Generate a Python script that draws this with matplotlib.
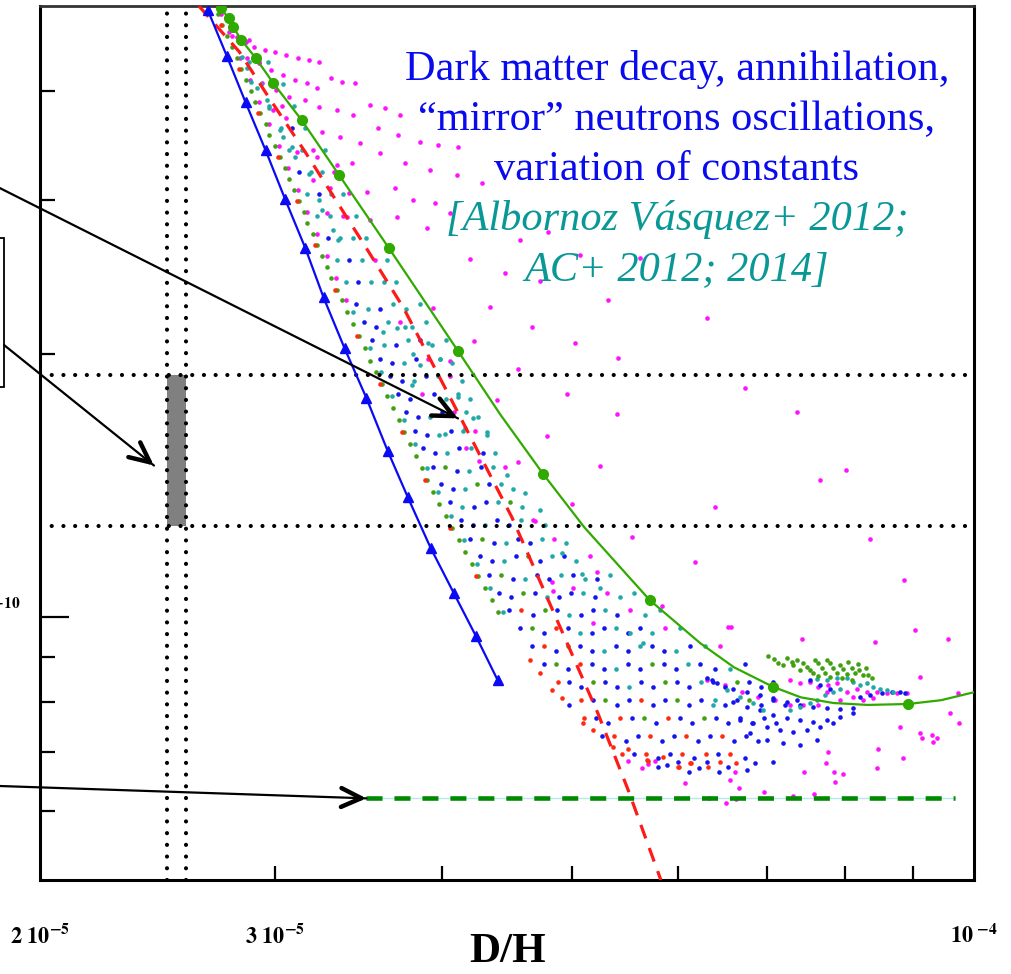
import numpy as np
import matplotlib
matplotlib.use("Agg")
import matplotlib.pyplot as plt
from matplotlib.patches import Rectangle
from matplotlib.ticker import FixedLocator, NullLocator, NullFormatter
from matplotlib.transforms import blended_transform_factory

plt.rcParams['mathtext.fontset'] = 'stix'
SERIF = ['Liberation Serif', 'DejaVu Serif']

DH_UNIT = 1e-5    # D/H values below are in units of 1e-5
LI_UNIT = 1e-10   # Li/H values below are in units of 1e-10

# observational windows
dh_obs = [2.49, 2.57]
li_obs = [1.27, 1.89]

# model curves
blue_dh = [2.67, 2.76, 2.85, 2.95, 3.05, 3.16, 3.26, 3.38, 3.51, 3.64, 3.77, 3.92, 4.08, 4.24, 4.40]
blue_li = [4.95, 4.38, 3.88, 3.42, 3.01, 2.64, 2.32, 2.03, 1.78, 1.55, 1.37, 1.20, 1.065, 0.95, 0.847]

green_mark_dh = [2.73, 2.77, 2.79, 2.83, 2.90, 2.99, 3.14, 3.35, 3.65, 4.11, 4.76, 5.72, 7.07, 8.93]
green_mark_li = [4.97, 4.84, 4.73, 4.57, 4.36, 4.08, 3.70, 3.20, 2.64, 2.015, 1.457, 1.045, 0.832, 0.795]
green_line_dh = [2.73, 2.77, 2.79, 2.83, 2.90, 2.99, 3.14, 3.35, 3.65, 4.11, 4.42, 4.76, 5.11,
                 5.72, 6.24, 6.61, 7.07, 7.42, 7.85, 8.33, 8.93, 9.45, 10.0]
green_line_li = [4.97, 4.84, 4.73, 4.57, 4.36, 4.08, 3.70, 3.20, 2.64, 2.015, 1.705, 1.457, 1.266,
                 1.045, 0.933, 0.876, 0.832, 0.809, 0.797, 0.793, 0.795, 0.803, 0.82]

red_dh = [2.63, 2.82, 2.96, 3.16, 3.50, 3.74, 4.10, 4.51, 4.90, 5.23, 5.51, 5.83]
red_li = [5.00, 4.43, 3.95, 3.40, 2.66, 2.26, 1.725, 1.30, 0.974, 0.776, 0.634, 0.50]

floor_dh = [3.51, 9.68]
floor_li = [0.62, 0.62]

# scanned model points, (D/H, Li/H) pairs
blue_points = [
    (2.985, 4.067), (3.090, 3.623), (3.123, 3.225), (3.237, 3.044), (3.283, 2.710), (3.409, 2.558),
    (3.457, 2.414), (3.445, 2.278), (3.591, 2.251), (3.493, 2.173), (3.566, 2.147),
    (3.541, 2.072), (3.691, 2.047), (3.847, 2.072), (3.591, 1.975), (3.666, 1.951), (3.821, 1.975),
    (3.653, 1.884), (3.730, 1.861), (3.887, 1.884), (3.704, 1.797), (3.781, 1.775), (3.941, 1.797),
    (3.755, 1.714), (3.834, 1.693), (3.996, 1.714), (3.814, 1.634), (3.894, 1.614), (4.058, 1.634),
    (3.867, 1.559), (3.948, 1.540), (4.115, 1.559), (4.288, 1.540), (3.934, 1.486), (4.101, 1.468),
    (4.273, 1.486), (3.989, 1.418), (4.072, 1.401), (4.333, 1.418), (4.051, 1.352), (4.222, 1.336),
    (4.311, 1.352), (4.129, 1.290), (4.215, 1.275), (4.393, 1.290), (4.485, 1.275), (4.193, 1.229),
    (4.371, 1.214), (4.555, 1.229), (4.651, 1.214), (4.266, 1.173), (4.356, 1.159), (4.540, 1.173),
    (4.732, 1.159), (4.932, 1.173), (4.333, 1.118), (4.516, 1.105), (4.708, 1.118), (4.806, 1.105),
    (5.009, 1.118), (5.221, 1.105), (4.408, 1.066), (4.501, 1.053), (4.691, 1.066), (4.889, 1.053),
    (4.992, 1.066), (5.203, 1.053), (4.485, 1.018), (4.675, 1.006), (4.873, 1.018), (5.079, 1.006),
    (5.185, 1.018), (5.404, 1.006), (4.571, 0.970), (4.765, 0.958), (4.966, 0.970), (5.176, 0.958),
    (5.284, 0.970), (5.507, 0.958), (5.623, 0.970), (4.667, 0.925), (4.864, 0.914), (5.070, 0.925),
    (5.176, 0.914), (5.394, 0.925), (5.507, 0.914), (5.740, 0.925), (5.860, 0.914), (6.129, 0.925),
    (4.765, 0.883), (4.966, 0.872), (5.176, 0.883), (5.284, 0.872), (5.507, 0.883), (5.623, 0.872),
    (5.860, 0.883), (5.982, 0.872), (6.235, 0.883), (6.399, 0.872), (6.739, 0.883), (4.975, 0.842),
    (5.079, 0.832), (5.293, 0.842), (5.404, 0.832), (5.632, 0.842), (5.750, 0.832), (5.993, 0.842),
    (6.118, 0.832), (6.377, 0.842), (6.510, 0.832), (6.785, 0.842), (6.927, 0.832), (7.072, 0.842),
    (4.975, 0.793), (5.185, 0.803), (5.404, 0.793), (5.517, 0.803), (5.750, 0.793), (5.870, 0.803),
    (6.118, 0.793), (6.246, 0.803), (6.510, 0.793), (6.646, 0.803), (6.927, 0.793), (7.072, 0.803),
    (7.220, 0.793), (7.371, 0.803), (5.212, 0.766), (5.321, 0.757), (5.545, 0.766), (5.780, 0.757),
    (6.024, 0.766), (6.150, 0.757), (6.410, 0.766), (6.544, 0.757), (6.681, 0.766), (6.820, 0.757),
    (6.963, 0.766), (7.109, 0.757), (5.266, 0.730), (5.488, 0.721), (5.603, 0.730), (5.840, 0.721),
    (5.962, 0.730), (6.214, 0.721), (6.344, 0.730), (6.612, 0.721), (6.750, 0.730), (6.891, 0.721),
    (5.565, 0.697), (5.800, 0.689), (5.921, 0.697), (6.171, 0.689), (6.432, 0.697), (6.739, 0.689),
    (6.003, 0.682), (5.800, 0.673), (5.890, 0.677), (6.118, 0.664), (6.224, 0.671), (6.311, 0.682),
    (6.443, 0.664), (6.544, 0.673), (6.762, 0.668), (6.856, 0.680), (7.072, 0.682),
    (6.311, 0.851), (6.366, 0.846), (6.421, 0.840), (6.600, 0.828), (6.762, 0.820), (6.915, 0.814),
    (7.072, 0.807), (7.245, 0.799), (7.410, 0.793), (7.578, 0.788), (7.763, 0.786), (7.939, 0.784),
    (8.119, 0.786), (6.600, 0.799), (6.762, 0.788), (6.915, 0.782), (7.072, 0.772), (7.245, 0.766),
    (7.410, 0.762), (7.578, 0.758), (7.763, 0.762), (7.939, 0.768), (8.119, 0.776), (6.681, 0.762),
    (6.832, 0.756), (6.999, 0.748), (7.158, 0.742), (7.321, 0.738), (7.500, 0.742), (7.670, 0.748),
    (7.844, 0.756), (6.797, 0.736), (6.999, 0.723), (7.195, 0.717), (7.410, 0.713), (7.631, 0.723),
    (8.218, 0.809), (8.361, 0.814), (8.536, 0.818), (8.685, 0.820), (8.805, 0.820), (8.881, 0.818),
    (7.539, 0.846), (7.670, 0.835), (7.803, 0.828),
]

cyan_points = [
    (2.820, 4.567), (2.869, 4.310), (2.960, 4.310), (2.929, 4.067), (3.038, 4.067), (2.970, 3.838),
    (3.096, 3.838), (3.027, 3.623), (3.155, 3.623), (3.074, 3.418), (3.139, 3.418), (3.271, 3.418),
    (3.188, 3.225), (3.254, 3.225), (3.171, 3.044), (3.305, 3.044), (3.374, 3.044), (3.226, 2.872),
    (3.294, 2.872), (3.445, 2.872), (3.351, 2.710), (3.427, 2.710), (3.505, 2.710), (3.334, 2.558),
    (3.481, 2.558), (3.634, 2.558), (3.386, 2.414), (3.535, 2.414), (3.616, 2.414), (3.691, 2.414),
    (3.517, 2.251), (3.672, 2.278), (3.755, 2.251), (3.847, 2.278), (3.640, 2.173), (3.794, 2.147),
    (3.887, 2.173), (3.616, 2.047), (3.768, 2.072), (3.927, 2.047), (4.023, 2.072), (3.743, 1.951),
    (3.982, 1.975), (4.065, 1.951), (3.808, 1.861), (3.968, 1.884), (4.136, 1.861), (4.023, 1.775),
    (4.108, 1.797), (4.193, 1.775), (3.914, 1.693), (4.164, 1.714), (4.251, 1.693), (3.975, 1.614),
    (4.143, 1.634), (4.318, 1.614), (4.030, 1.540), (4.200, 1.559), (4.378, 1.540), (4.186, 1.468),
    (4.363, 1.486), (4.158, 1.401), (4.424, 1.418), (4.516, 1.401), (4.136, 1.336), (4.401, 1.352),
    (4.587, 1.336), (4.304, 1.275), (4.579, 1.290), (4.773, 1.275), (4.462, 1.214), (4.748, 1.229),
    (4.949, 1.214), (4.447, 1.159), (4.831, 1.173), (5.035, 1.159), (4.611, 1.105), (4.907, 1.118),
    (5.114, 1.105), (5.339, 1.118), (4.789, 1.053), (5.096, 1.066), (5.432, 1.053), (5.564, 1.066),
    (4.975, 1.006), (5.293, 1.018), (5.671, 1.006), (5.820, 1.018), (5.070, 0.958), (5.394, 0.970),
    (5.740, 0.958), (6.024, 0.970), (5.284, 0.914), (5.623, 0.925), (5.982, 0.914), (6.289, 0.925),
    (5.394, 0.872), (6.108, 0.883), (6.566, 0.872), (5.517, 0.832), (6.246, 0.842), (6.377, 0.793),
    (3.427, 2.230), (3.529, 2.029), (3.597, 1.904), (3.666, 1.788), (3.743, 1.678), (3.814, 1.576),
    (3.894, 1.479), (3.968, 1.389), (4.058, 1.304), (4.151, 1.223), (4.244, 1.149), (4.341, 1.078),
    (4.439, 1.013), (3.698, 2.138), (3.900, 2.056), (4.108, 1.783), (4.215, 1.691), (4.318, 1.626),
    (4.470, 1.452), (4.611, 1.385), (4.732, 1.324), (3.609, 2.116), (3.749, 2.144), (3.982, 1.975),
    (3.794, 1.840), (4.915, 1.183), (5.087, 1.121), (5.248, 1.078), (5.526, 0.958), (5.652, 0.933),
    (3.801, 1.999), (3.847, 1.940), (4.158, 1.647), (4.016, 1.621), (2.835, 4.367), (2.859, 4.242),
    (2.879, 4.088), (2.909, 4.024), (2.955, 3.899), (2.970, 3.818), (3.022, 3.603), (3.038, 3.537),
    (3.085, 3.445), (3.101, 3.356), (3.182, 3.216), (3.237, 2.996), (3.254, 2.918), (3.311, 2.768),
    (3.340, 2.696), (7.631, 0.848), (7.763, 0.846), (7.898, 0.851), (8.036, 0.851), (8.119, 0.842),
    (8.218, 0.835), (8.318, 0.840), (8.405, 0.831), (8.507, 0.828), (8.610, 0.824), (8.700, 0.820),
    (7.283, 0.782), (7.410, 0.788), (7.539, 0.797), (7.631, 0.803), (7.736, 0.814), (7.844, 0.820),
    (7.939, 0.828), (6.399, 0.803), (6.532, 0.824), (6.681, 0.809), (6.832, 0.797), (6.951, 0.782),
]

magenta_points = [
    (2.734, 4.891), (2.782, 4.616), (2.825, 4.356), (2.874, 4.110), (2.919, 3.879), (2.970, 3.661),
    (3.017, 3.454), (3.069, 3.259), (3.117, 3.076), (3.171, 2.903), (3.221, 2.739), (3.277, 2.585),
    (3.328, 2.439), (3.386, 2.302), (2.869, 4.567), (2.919, 4.310), (3.033, 3.838), (3.204, 3.418),
    (3.322, 3.225), (3.369, 2.872), (3.560, 2.558), (3.717, 2.173), (3.900, 1.975), (4.051, 1.884),
    (3.860, 1.797), (4.079, 1.714), (4.229, 1.634), (4.454, 1.486), (4.675, 1.290), (4.847, 1.229),
    (5.158, 1.173), (5.311, 1.066), (5.526, 1.018), (5.870, 0.970), (6.454, 0.925),
    (2.772, 4.665), (2.810, 4.603), (2.854, 4.543), (2.894, 4.484), (2.945, 4.448), (2.996, 4.425),
    (3.058, 4.390), (3.117, 4.356), (3.182, 4.333), (3.237, 4.310), (2.859, 4.356), (2.919, 4.299),
    (2.980, 4.220), (3.038, 4.165), (3.101, 4.110), (3.166, 4.078), (3.226, 4.024), (3.305, 4.132),
    (3.368, 4.088), (3.439, 4.078), (2.934, 4.078), (3.006, 4.003), (3.074, 3.930), (3.155, 3.899),
    (3.237, 3.828), (3.334, 3.798), (3.427, 3.748), (3.529, 3.848), (3.622, 3.818), (3.717, 3.748),
    (2.986, 3.798), (3.058, 3.718), (3.144, 3.670), (3.254, 3.584), (3.351, 3.537), (3.469, 3.481),
    (3.579, 3.622), (3.704, 3.556), (3.847, 3.491), (3.968, 3.463), (4.108, 3.445), (3.112, 3.400),
    (3.221, 3.356), (3.334, 3.285), (3.421, 3.302), (3.591, 3.391), (3.749, 3.302), (3.914, 3.242),
    (4.100, 3.200), (4.281, 3.134), (3.199, 3.158), (3.294, 3.092), (3.409, 3.052), (3.511, 3.060),
    (3.685, 3.092), (3.801, 2.996), (3.948, 2.973), (4.051, 2.895), (3.277, 2.895), (3.392, 2.865),
    (3.529, 2.842), (3.698, 2.865), (3.894, 2.783), (4.571, 2.696), (4.797, 2.754), (5.070, 2.592),
    (5.623, 2.571), (6.311, 2.196), (6.739, 1.826), (7.372, 1.714), (7.670, 1.433), (8.022, 1.471),
    (8.361, 1.229), (8.866, 1.101), (9.036, 0.965), (4.193, 2.570), (4.454, 2.476), (4.732, 2.426),
    (3.934, 2.254), (4.341, 2.260), (4.667, 2.144), (5.321, 2.302), (5.026, 2.056), (5.413, 1.980),
    (4.222, 2.067), (4.051, 1.960), (4.555, 1.919), (4.957, 1.797), (4.393, 1.769), (5.404, 1.705),
    (4.789, 1.609), (5.248, 1.490), (4.555, 1.502), (5.000, 1.345), (4.691, 1.287), (4.259, 1.506),
    (4.164, 1.559), (6.399, 1.335), (5.545, 1.233), (6.182, 1.155), (5.221, 1.127), (5.840, 1.029),
    (6.544, 0.973), (5.009, 1.078), (4.831, 1.095), (4.839, 1.072), (5.185, 0.983), (6.578, 0.973),
    (7.436, 0.943), (8.434, 0.935), (9.565, 0.943), (9.114, 0.853), (9.731, 0.818), (9.598, 0.776),
    (9.748, 0.756), (8.805, 0.748), (9.114, 0.736), (9.146, 0.727), (9.305, 0.733), (9.386, 0.727),
    (9.322, 0.719), (8.478, 0.706), (8.851, 0.690), (8.463, 0.671), (7.776, 0.700), (7.750, 0.680),
    (7.857, 0.664), (7.980, 0.661), (7.871, 0.647), (7.461, 0.664), (6.566, 0.650), (6.670, 0.637),
    (6.963, 0.631), (7.321, 0.624), (7.591, 0.627), (5.507, 0.684), (5.642, 0.671), (5.700, 0.679),
    (5.770, 0.684), (6.077, 0.645), (6.623, 0.664), (6.333, 0.620), (6.521, 0.612), (6.635, 0.619),
    (7.283, 0.846), (7.410, 0.840), (7.539, 0.842), (7.644, 0.831), (7.776, 0.835), (7.898, 0.840),
    (8.036, 0.820), (8.176, 0.828), (8.318, 0.820), (8.463, 0.820), (8.610, 0.818), (8.760, 0.818),
    (8.912, 0.818), (7.763, 0.820), (7.939, 0.803), (8.119, 0.809), (8.261, 0.803), (8.405, 0.807),
    (6.311, 0.846), (6.510, 0.835), (6.704, 0.820), (6.892, 0.809), (7.097, 0.803), (7.283, 0.793),
    (7.449, 0.793), (7.644, 0.793),
]

green_points = [
    (2.716, 4.891), (2.739, 4.751), (2.762, 4.616), (2.786, 4.484), (2.806, 4.356), (2.830, 4.231),
    (2.854, 4.110), (2.879, 3.993), (2.899, 3.879), (2.924, 3.768), (2.950, 3.661), (2.970, 3.556),
    (2.996, 3.454), (3.022, 3.356), (3.048, 3.259), (3.074, 3.166), (3.096, 3.076), (3.123, 2.988),
    (3.150, 2.903), (3.171, 2.820), (3.199, 2.739), (3.226, 2.661), (3.254, 2.585), (3.277, 2.511),
    (3.305, 2.439), (3.334, 2.369), (3.363, 2.302), (3.397, 2.230), (3.427, 2.161), (3.463, 2.094),
    (3.499, 2.029), (3.529, 1.965), (3.566, 1.904), (3.603, 1.845), (3.634, 1.788), (3.672, 1.732),
    (3.711, 1.678), (3.743, 1.626), (3.781, 1.576), (3.821, 1.526), (3.860, 1.479), (3.894, 1.433),
    (3.934, 1.389), (3.975, 1.345), (4.023, 1.304), (4.065, 1.263), (4.115, 1.223), (4.158, 1.186),
    (4.208, 1.149), (4.251, 1.113), (4.304, 1.078), (4.356, 1.045), (4.401, 1.013),
    (4.016, 1.486), (4.244, 1.418), (4.493, 1.352), (4.281, 1.229), (4.635, 1.173), (4.424, 1.118),
    (4.595, 1.066), (4.773, 1.018), (4.667, 0.970), (4.966, 0.925), (4.864, 0.883), (5.740, 0.883),
    (5.185, 0.842), (5.870, 0.842), (6.646, 0.842), (5.293, 0.803), (5.993, 0.803), (6.785, 0.803),
    (5.661, 0.766), (6.279, 0.766),
    (7.012, 0.902), (7.085, 0.894), (7.134, 0.885), (7.195, 0.880), (7.308, 0.887), (7.321, 0.880),
    (7.410, 0.869), (7.500, 0.876), (7.539, 0.869), (7.578, 0.862), (7.644, 0.885), (7.696, 0.873),
    (7.736, 0.862), (7.803, 0.885), (7.844, 0.873), (7.898, 0.862), (7.939, 0.880), (7.980, 0.871),
    (8.036, 0.860), (8.105, 0.873), (8.147, 0.862), (8.204, 0.869), (8.261, 0.857), (8.332, 0.857),
    (8.390, 0.851), (7.245, 0.897), (7.372, 0.892), (7.449, 0.885), (7.604, 0.892), (7.763, 0.892),
    (8.050, 0.887), (8.190, 0.883), (8.304, 0.874), (7.644, 0.855), (7.803, 0.853), (7.966, 0.851),
    (8.105, 0.846),
]

red_points = [
    (2.730, 4.751), (2.820, 4.231), (2.914, 3.768), (3.012, 3.356), (3.112, 2.988), (3.215, 2.661),
    (3.323, 2.369), (3.451, 2.094), (3.591, 1.845), (3.730, 1.626), (3.880, 1.433), (4.051, 1.263),
    (4.237, 1.113), (4.579, 1.018), (4.864, 0.970), (4.765, 0.925), (5.070, 0.883), (4.881, 0.842),
    (5.079, 0.803), (5.632, 0.803), (5.105, 0.766), (5.432, 0.766), (5.901, 0.766), (5.376, 0.730),
    (5.720, 0.730), (6.087, 0.730), (6.476, 0.730), (5.451, 0.697), (5.681, 0.697), (6.045, 0.697),
    (6.300, 0.697), (6.566, 0.697), (4.651, 0.892), (4.732, 0.862), (4.831, 0.824), (4.915, 0.807),
    (5.096, 0.756), (5.185, 0.742), (5.367, 0.709), (5.507, 0.707), (5.690, 0.686), (5.850, 0.691),
    (6.003, 0.673), (6.129, 0.680), (5.700, 0.684), (6.013, 0.673), (6.140, 0.680), (6.322, 0.673),
    (6.454, 0.682), (6.635, 0.680),
]


def dh(v):
    return np.asarray(v) * DH_UNIT


def li(v):
    return np.asarray(v) * LI_UNIT


fig = plt.figure(figsize=(10.12, 9.74), dpi=100)
ax = fig.add_axes([40 / 1012, 1 - 880 / 974, 934 / 1012, 874 / 974])
ax.set_xscale('log')
ax.set_yscale('log')
ax.set_xlim(2e-5, 1e-4)
ax.set_ylim(5e-11, 5e-10)

# scanned points
dot = dict(ls='none', marker='o', ms=3.3, mew=0, zorder=2)
for pts, col in [(magenta_points, '#FF10FF'), (blue_points, '#1414F0'),
                 (cyan_points, '#22A8A8'), (green_points, '#40A010'), (red_points, '#FF2A10')]:
    arr = np.asarray(pts)
    ax.plot(dh(arr[:, 0]), li(arr[:, 1]), color=col, **dot)

# observational box and bounds
ax.add_patch(Rectangle((dh(dh_obs[0]), li(li_obs[0])),
                       dh(dh_obs[1]) - dh(dh_obs[0]), li(li_obs[1]) - li(li_obs[0]),
                       facecolor='#808080', edgecolor='none', zorder=3))
dotted = dict(color='black', lw=3.0, ls=(0, (0.01, 2.8)), dash_capstyle='round', zorder=4)
for v in dh_obs:
    ax.axvline(dh(v), **dotted)
for v in li_obs:
    ax.axhline(li(v), **dotted)

# curves
ax.plot(dh(floor_dh), li(floor_li), color='#B8E8EC', lw=1.0, zorder=5)
ax.plot(dh(floor_dh), li(floor_li), color='#008A00', lw=3.3, ls=(0, (3.5, 2.6)), zorder=5)
ax.plot(dh(red_dh), li(red_li), color='#FF1A1A', lw=2.3, ls=(0, (4.5, 3.2)), zorder=6)
ax.plot(dh(blue_dh), li(blue_li), color='#0A0AF5', lw=1.6, marker='^', ms=7, zorder=7)
ax.plot(dh(green_line_dh), li(green_line_li), color='#30AA00', lw=1.6, zorder=7)
ax.plot(dh(green_mark_dh), li(green_mark_li), ls='none', color='#30AA00', marker='o', ms=7, zorder=7)

# axes styling
for side in ['left', 'bottom', 'right']:
    ax.spines[side].set_linewidth(2.2)
ax.spines['top'].set_linewidth(2.0)
ax.spines['top'].set_color('#333333')
ax.xaxis.set_major_locator(FixedLocator([k * 1e-5 for k in range(3, 10)]))
ax.xaxis.set_minor_locator(NullLocator())
ax.xaxis.set_major_formatter(NullFormatter())
ax.yaxis.set_major_locator(FixedLocator([1e-10]))
ax.yaxis.set_minor_locator(FixedLocator([6e-11, 7e-11, 8e-11, 9e-11, 2e-10, 3e-10, 4e-10]))
ax.yaxis.set_major_formatter(NullFormatter())
ax.yaxis.set_minor_formatter(NullFormatter())
ax.tick_params(axis='x', which='major', direction='in', length=10, width=1.6,
               top=False, labelbottom=False)
ax.tick_params(axis='y', which='major', direction='in', length=21, width=1.6, right=False)
ax.tick_params(axis='y', which='minor', direction='in', length=11, width=1.6, right=False)

# axis labels
xtr = blended_transform_factory(ax.transData, ax.transAxes)
lab = dict(transform=xtr, ha='center', va='baseline', fontsize=16, clip_on=False)
ax.text(2e-5, -0.072, r'$\mathbf{2\ 10^{-5}}$', **lab)
ax.text(3e-5, -0.072, r'$\mathbf{3\ 10^{-5}}$', **lab)
ax.text(1e-4, -0.072, r'$\mathbf{10}^{\ \mathbf{-4}}$', **lab)
ytr = blended_transform_factory(ax.transAxes, ax.transData)
ax.text(-0.0205, 1.0e-10, r'$\mathbf{10^{-10}}$', transform=ytr, ha='right',
        va='baseline', fontsize=16, clip_on=False)
ax.text(0.501, -0.082, 'D/H', transform=ax.transAxes, ha='center', va='center',
        fontsize=31, fontweight='bold', family=SERIF)

# annotation block
lines = [("Dark matter decay, annihilation,", '#0A0AEE', 'normal'),
         ("\u201cmirror\u201d neutrons oscillations,", '#0A0AEE', 'normal'),
         ("variation of constants", '#0A0AEE', 'normal'),
         ("[Albornoz V\u00e1squez+ 2012;", '#0A9896', 'italic'),
         ("AC+ 2012; 2014]", '#0A9896', 'italic')]
for i, (txt, col, sty) in enumerate(lines):
    ax.text(0.682, 0.9153 - i * 0.0572, txt, transform=ax.transAxes, ha='center',
            va='baseline', fontsize=30.5, color=col, style=sty, family=SERIF, zorder=8)

# pointers from the side panel
box = Rectangle((-0.1, 1 - 387 / 974), 0.1 + 4 / 1012, (387 - 238) / 974,
                transform=fig.transFigure, fill=False, lw=1.3, ec='black', clip_on=False)
fig.add_artist(box)

arrows = [((4.11, 1.687), (-60 / 1012, 1 - 158 / 974)),
          ((2.434, 1.49), (4 / 1012, 1 - 345 / 974)),
          ((floor_dh[0], floor_li[0]), (-60 / 1012, 1 - 784 / 974))]
fig.canvas.draw()
for (tx, ty), (fx, fy) in arrows:
    tip = (tx * DH_UNIT, ty * LI_UNIT)
    ax.annotate('', xy=tip, xycoords='data', xytext=(fx, fy), textcoords='figure fraction',
                arrowprops=dict(arrowstyle='-', lw=1.6, color='black', shrinkA=0, shrinkB=0),
                annotation_clip=False, zorder=9)
    p_tip = ax.transData.transform(tip)
    p_tail = fig.transFigure.transform((fx, fy))
    u = (p_tip - p_tail) / np.hypot(*(p_tip - p_tail))
    back = -u * 6.0
    ax.annotate('', xy=tip, xycoords='data', xytext=(back[0], back[1]), textcoords='offset points',
                arrowprops=dict(arrowstyle='->,head_length=0.72,head_width=0.34', lw=3.2,
                                color='black', shrinkA=0, shrinkB=0, mutation_scale=20),
                annotation_clip=False, zorder=9)

fig.savefig('out.png', dpi=100)
